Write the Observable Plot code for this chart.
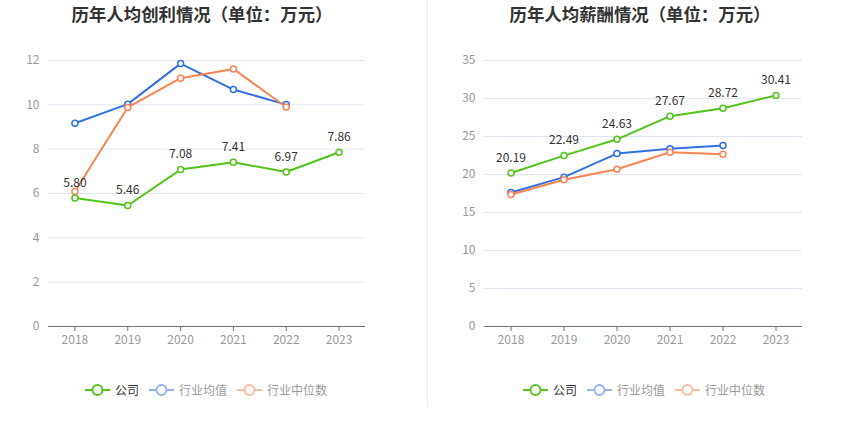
<!DOCTYPE html>
<html>
<head>
<meta charset="utf-8">
<script src="https://cdn.jsdelivr.net/npm/d3@7"></script>
<script src="https://cdn.jsdelivr.net/npm/@observablehq/plot@0.6"></script>
<style>
  body { margin: 0; background: #fff; font-family: "Noto Sans CJK SC", "Noto Sans", sans-serif; }
  #root { position: relative; width: 850px; height: 437px; overflow: hidden; }
  .panel { position: absolute; top: 0; }
  .title { position: absolute; top: 1px; font-size: 17.4px; font-weight: bold; color: #333; white-space: nowrap; transform: translateX(-50%); }
  .legend { position: absolute; top: 381px; display: flex; align-items: center; transform: translateX(-50%); white-space: nowrap; font-size: 12px; }
  .legend .item { display: flex; align-items: center; margin-right: 10px; }
  .legend .item svg { margin-right: 5px; }
  .divider { position: absolute; left: 427px; top: 0; width: 1px; height: 407px; background: #eeeeee; }
</style>
</head>
<body>
<div id="root"></div>
<script>
const years = ["2018", "2019", "2020", "2021", "2022", "2023"];
const profitCompany = [5.80, 5.46, 7.08, 7.41, 6.97, 7.86];
const profitAvg = [9.17, 10.03, 11.86, 10.69, 10.01];
const profitMedian = [6.09, 9.88, 11.2, 11.62, 9.9];
const salaryCompany = [20.19, 22.49, 24.63, 27.67, 28.72, 30.41];
const salaryAvg = [17.64, 19.65, 22.75, 23.4, 23.8];
const salaryMedian = [17.37, 19.3, 20.7, 22.93, 22.67];
const seriesNames = ["公司", "行业均值", "行业中位数"];
const profitTicks = [0, 2, 4, 6, 8, 10, 12];
const salaryTicks = [0, 5, 10, 15, 20, 25, 30, 35];
const titles = ["历年人均创利情况（单位：万元）", "历年人均薪酬情况（单位：万元）"];

const colors = ["#52c41a", "#3071e3", "#fa8352"];
const legendColors = ["#52c41a", "#93b3f0", "#fdbb9f"];

function toRows(vals) { return vals.map((v, i) => ({ year: years[i], value: v })); }

function makeChart(company, avg, median, ticks, ml, mr) {
  const c = toRows(company), a = toRows(avg), m = toRows(median);
  return Plot.plot({
    width: 425, height: 360,
    marginLeft: ml, marginRight: mr, marginTop: 60, marginBottom: 34,
    style: { fontFamily: "'Noto Sans CJK SC', 'Noto Sans', sans-serif", fontSize: "12px", background: "transparent" },
    x: { type: "point", domain: years, padding: 0.5, round: false, label: null },
    y: { domain: [0, ticks[ticks.length - 1]], label: null },
    marks: [
      Plot.gridY(ticks, { stroke: "#e0e6f1", strokeOpacity: 1 }),
      Plot.axisY(ticks, { tickSize: 0, tickPadding: 9, fill: "#999", fontSize: 12, label: null }),
      Plot.ruleY([0], { stroke: "#6e7079" }),
      Plot.axisX({ tickSize: 5, stroke: "#6e7079", fill: "#999", tickPadding: 4, fontSize: 12, label: null }),
      Plot.line(a, { x: "year", y: "value", stroke: colors[1], strokeWidth: 2 }),
      Plot.dot(a, { x: "year", y: "value", r: 3, fill: "#fff", stroke: colors[1], strokeWidth: 1.5 }),
      Plot.line(m, { x: "year", y: "value", stroke: colors[2], strokeWidth: 2 }),
      Plot.dot(m, { x: "year", y: "value", r: 3, fill: "#fff", stroke: colors[2], strokeWidth: 1.5 }),
      Plot.line(c, { x: "year", y: "value", stroke: colors[0], strokeWidth: 2 }),
      Plot.dot(c, { x: "year", y: "value", r: 3, fill: "#fff", stroke: colors[0], strokeWidth: 1.5 }),
      Plot.text(c, { x: "year", y: "value", text: d => d.value.toFixed(2), dy: -15, fill: "#333", fontSize: 12 })
    ]
  });
}

function legend(centerX) {
  const div = document.createElement("div");
  div.className = "legend";
  div.style.left = centerX + "px";
  seriesNames.forEach((name, i) => {
    const item = document.createElement("div");
    item.className = "item";
    item.innerHTML = `<svg width="25" height="14"><line x1="0" y1="7" x2="25" y2="7" stroke="${legendColors[i]}" stroke-width="2"/><circle cx="12.5" cy="7" r="5" fill="#fff" stroke="${legendColors[i]}" stroke-width="2"/></svg><span style="color:${i === 0 ? '#333' : '#999'}">${name}</span>`;
    div.appendChild(item);
  });
  return div;
}

const root = document.getElementById("root");
const p1 = document.createElement("div"); p1.className = "panel"; p1.style.left = "0px";
p1.appendChild(makeChart(profitCompany, profitAvg, profitMedian, profitTicks, 48, 60));
root.appendChild(p1);
const p2 = document.createElement("div"); p2.className = "panel"; p2.style.left = "425px";
p2.appendChild(makeChart(salaryCompany, salaryAvg, salaryMedian, salaryTicks, 59, 48));
root.appendChild(p2);

[202, 640].forEach((x, i) => {
  const t = document.createElement("div"); t.className = "title"; t.style.left = x + "px"; t.textContent = titles[i];
  root.appendChild(t);
});
root.appendChild(legend(211));
root.appendChild(legend(649));
const dv = document.createElement("div"); dv.className = "divider"; root.appendChild(dv);
</script>
</body>
</html>
